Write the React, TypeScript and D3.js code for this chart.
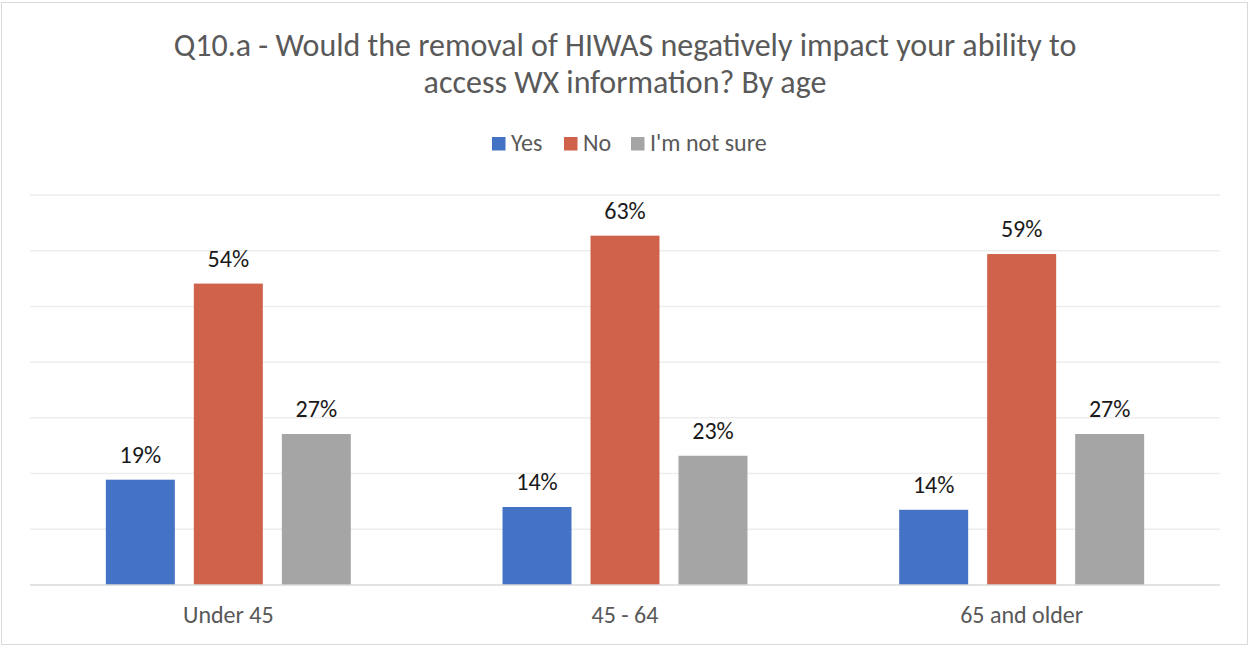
import React from "react";
import * as d3 from "d3";

const categories = ["Under 45", "45 - 64", "65 and older"];
const seriesNames = ["Yes", "No", "I'm not sure"];
const seriesColors = ["#4472C4", "#D0614A", "#A5A5A5"];
const yesValues = [0.189, 0.14, 0.135];
const noValues = [0.541, 0.627, 0.594];
const notSureValues = [0.271, 0.232, 0.271];
const yTicks = [0, 0.1, 0.2, 0.3, 0.4, 0.5, 0.6, 0.7];
const titleLines = [
  "Q10.a - Would the removal of HIWAS negatively impact your ability to",
  "access WX information? By age",
];

const W = 1249;
const H = 646;
const FONT = "Carlito, Calibri, 'Liberation Sans', 'Noto Sans', sans-serif";

export default function App() {
  const series = [yesValues, noValues, notSureValues];
  const left = 30, right = 1220, top = 195, bottom = 585;
  const x0 = d3.scaleBand<string>().domain(categories).range([left, right]).paddingInner(0).paddingOuter(0);
  const x1 = d3.scaleBand<string>().domain(seriesNames).range([0, x0.bandwidth()]).paddingInner(0.216).paddingOuter(0.862);
  const y = d3.scaleLinear().domain([0, 0.7]).range([bottom, top]);
  const fmt = d3.format(".0%");

  const legendItems = [
    { name: "Yes", x: 492 },
    { name: "No", x: 564 },
    { name: "I'm not sure", x: 631 },
  ];

  return (
    <svg width={W} height={H} style={{ position: "fixed", left: 0, top: 0, background: "#fff" }} fontFamily={FONT}>
      <rect x={1.5} y={2.5} width={W - 3} height={H - 4} fill="#fff" stroke="#D9D9D9" strokeWidth={1} />
      {titleLines.map((t, i) => (
        <text key={i} x={625} y={56 + i * 37} textAnchor="middle" fontSize={32} fill="#595959">
          {t}
        </text>
      ))}
      {legendItems.map((l, i) => (
        <g key={l.name}>
          <rect x={l.x} y={137} width={13.5} height={13.5} fill={seriesColors[i]} />
          <text x={l.x + 19} y={151} fontSize={24} fill="#595959">{l.name}</text>
        </g>
      ))}
      {yTicks.slice(1).map((t) => (
        <line key={t} x1={left} x2={right} y1={y(t)} y2={y(t)} stroke="#EDEDED" strokeWidth={1.5} />
      ))}
      {categories.map((c, ci) => (
        <g key={c} transform={`translate(${x0(c)},0)`}>
          {seriesNames.map((s, si) => {
            const v = series[si][ci];
            const bx = x1(s)!;
            return (
              <g key={s}>
                <rect x={bx} y={y(v)} width={x1.bandwidth()} height={y(0) - y(v)} fill={seriesColors[si]} />
                <text x={bx + x1.bandwidth() / 2} y={y(v) - 17} textAnchor="middle" fontSize={24} fill="#1a1a1a">
                  {fmt(Math.round(v * 100) / 100)}
                </text>
              </g>
            );
          })}
          <text x={x0.bandwidth() / 2} y={623} textAnchor="middle" fontSize={24} fill="#595959">{c}</text>
        </g>
      ))}
      <line x1={left} x2={right} y1={bottom} y2={bottom} stroke="#D9D9D9" strokeWidth={1.5} />
    </svg>
  );
}
